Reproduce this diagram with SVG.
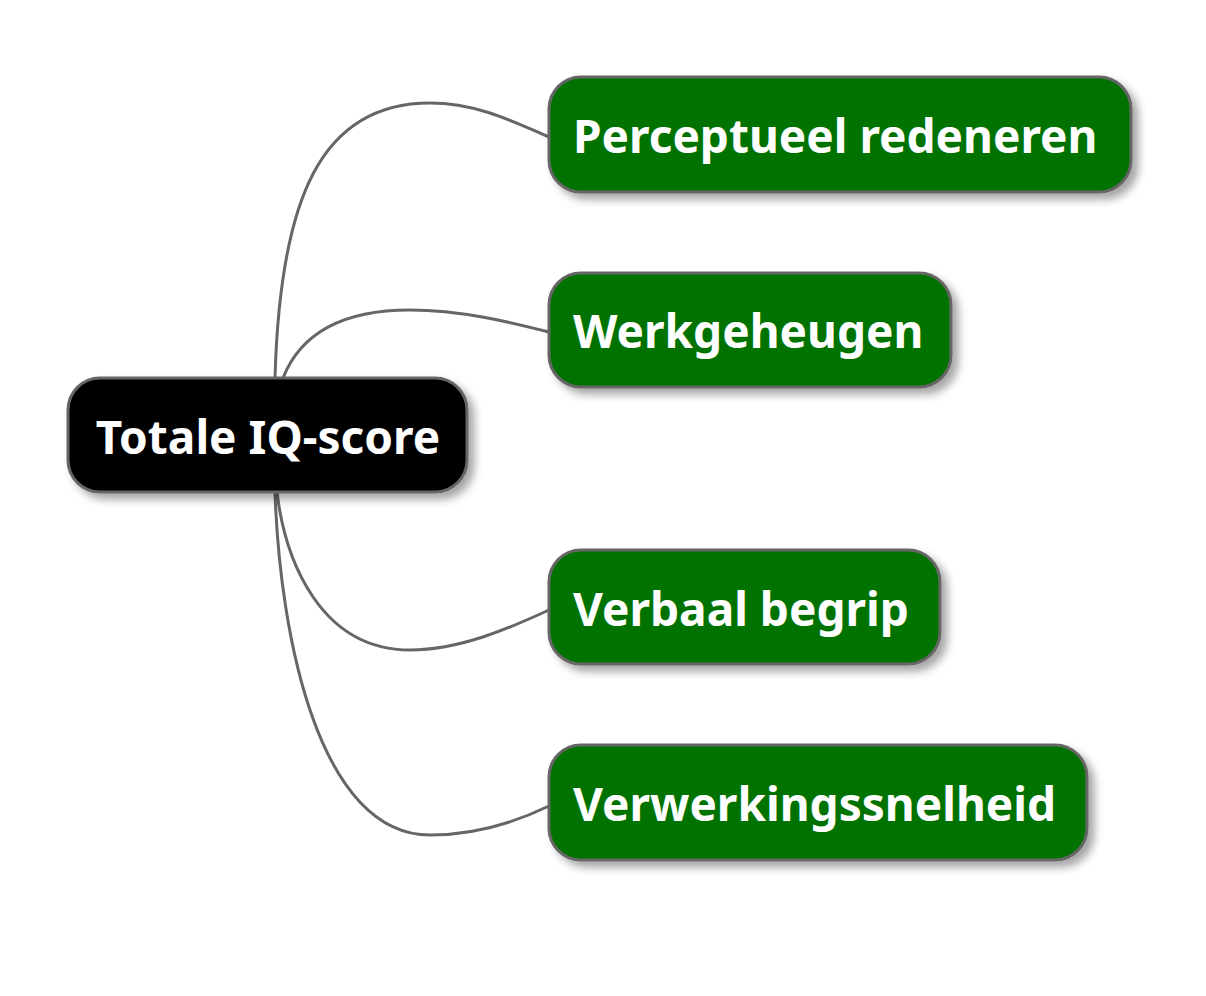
<svg xmlns="http://www.w3.org/2000/svg" width="1206" height="996" viewBox="0 0 1206 996">
<defs>
<filter id="sh" x="-20%" y="-30%" width="140%" height="170%"><feDropShadow dx="6" dy="6" stdDeviation="4" flood-color="#000" flood-opacity="0.35"/></filter>
<style>
.n{stroke:#666;stroke-width:3;filter:url(#sh)}
.c{fill:#037203}
.t{font-family:"Noto Sans","Open Sans",sans-serif;font-weight:bold;font-size:46px;fill:#fff}
.e{fill:none;stroke:#666;stroke-width:3}
</style>
</defs>
<rect width="1206" height="996" fill="#fff"/>
<g id="connectors">
<path class="e" d="M275,378 C280,200 320,103 430,103 C480,103 520,125 549,137"/>
<path class="e" d="M283,378 C300,335 340,310 410,310 C460,310 510,322 549,332"/>
<path class="e" d="M277,492 C285,560 320,650 410,650 C460,650 510,628 549,610"/>
<path class="e" d="M275,492 C280,640 320,835 430,835 C480,835 520,820 549,806"/>
</g>
<g id="root"><rect class="n" x="68" y="378" width="399" height="114" rx="32" fill="#000"/><text class="t" x="268" y="454" text-anchor="middle">Totale IQ-score</text></g>
<g id="n1"><rect class="n c" x="549" y="77" width="582" height="115" rx="32"/><text class="t" x="573" y="153">Perceptueel redeneren</text></g>
<g id="n2"><rect class="n c" x="549" y="273" width="402" height="114" rx="32"/><text class="t" x="573" y="348">Werkgeheugen</text></g>
<g id="n3"><rect class="n c" x="549" y="550" width="391" height="114" rx="32"/><text class="t" x="573" y="626">Verbaal begrip</text></g>
<g id="n4"><rect class="n c" x="549" y="745" width="538" height="115" rx="32"/><text class="t" x="573" y="821">Verwerkingssnelheid</text></g>
</svg>
